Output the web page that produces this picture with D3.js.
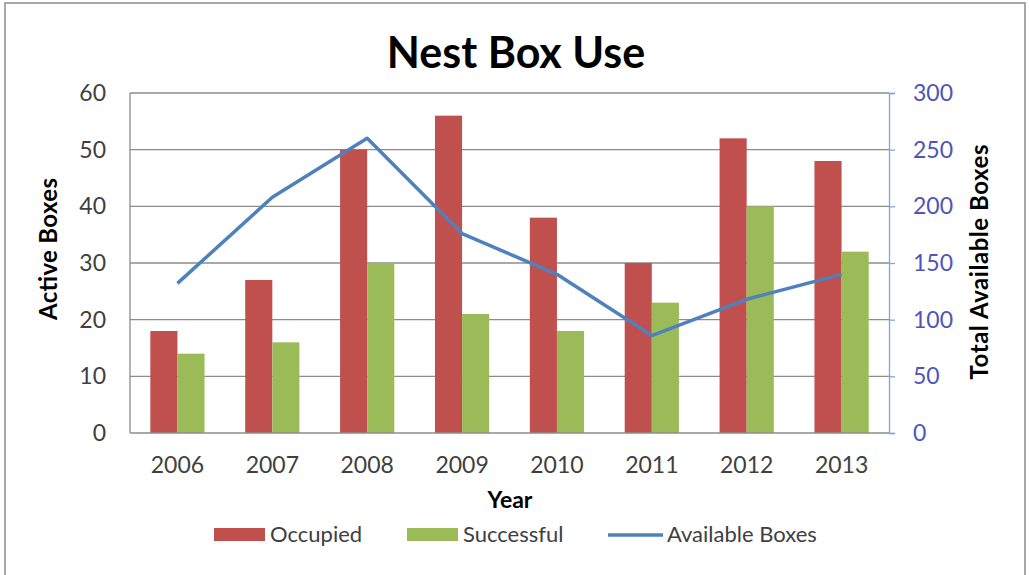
<!DOCTYPE html>
<html><head><meta charset="utf-8">
<script src="https://cdn.jsdelivr.net/npm/d3@7"></script>
<style>
html,body{margin:0;padding:0;background:#fff;}
svg{display:block;font-family:Lato,"Open Sans",sans-serif;}
</style></head>
<body>
<svg id="chart" width="1029" height="575"></svg>
<script>
const years = ["2006","2007","2008","2009","2010","2011","2012","2013"];
const occupied = [18, 27, 50, 56, 38, 30, 52, 48];
const successful = [14, 16, 30, 21, 18, 23, 40, 32];
const available = [132, 208, 260, 176, 140, 86, 118, 140];
const leftTicks = [0, 10, 20, 30, 40, 50, 60];
const rightTicks = [0, 50, 100, 150, 200, 250, 300];
const seriesNames = ["Occupied", "Successful", "Available Boxes"];
const colors = {occ: "#C0504D", suc: "#9BBB59", line: "#4F81BD"};

const svg = d3.select("#chart");
const m = {left: 130, right: 889, top: 93, bottom: 433};

// frame
svg.append("rect").attr("x", 5).attr("y", 3).attr("width", 1020).attr("height", 600)
  .attr("fill", "#fff").attr("stroke", "#8a8a8a").attr("stroke-width", 1.5);

const x = d3.scaleBand().domain(years).range([m.left, m.right]).paddingInner(0).paddingOuter(0);
const x1 = d3.scaleBand().domain(["occ","suc"]).range([0, x.bandwidth()]).paddingInner(0).paddingOuter(0.75);
const yL = d3.scaleLinear().domain([0, 60]).range([m.bottom, m.top]);
const yR = d3.scaleLinear().domain([0, 300]).range([m.bottom, m.top]);

// gridlines
svg.append("g").selectAll("line").data(leftTicks.filter(d => d > 0)).join("line")
  .attr("x1", m.left).attr("x2", m.right)
  .attr("y1", d => yL(d)).attr("y2", d => yL(d))
  .attr("stroke", "#8c8c8c").attr("stroke-width", 1.3);

// bars
const g = svg.append("g");
years.forEach((yr, i) => {
  [["occ", occupied[i]], ["suc", successful[i]]].forEach(([k, v]) => {
    g.append("rect")
      .attr("x", x(yr) + x1(k))
      .attr("y", yL(v))
      .attr("width", x1.bandwidth())
      .attr("height", yL(0) - yL(v))
      .attr("fill", colors[k]);
  });
});

// left axis line and bottom axis
svg.append("line").attr("x1", m.left).attr("x2", m.left).attr("y1", m.top).attr("y2", m.bottom)
  .attr("stroke", "#8c8c8c").attr("stroke-width", 1.3);
svg.append("line").attr("x1", m.left).attr("x2", m.right).attr("y1", m.bottom).attr("y2", m.bottom)
  .attr("stroke", "#8c8c8c").attr("stroke-width", 1.5);

// left axis labels
const axL = d3.axisLeft(yL).tickValues(leftTicks).tickSize(0).tickPadding(24);
const gL = svg.append("g").attr("transform", `translate(${m.left},0)`).call(axL);
gL.select(".domain").remove();
gL.selectAll("text").attr("font-size", 23).attr("fill", "#404040").attr("font-family", "Lato, sans-serif");

// right axis
const axR = d3.axisRight(yR).tickValues(rightTicks).tickSize(6).tickPadding(18);
const gR = svg.append("g").attr("transform", `translate(${m.right},0)`).call(axR);
gR.select(".domain").attr("stroke", "#7DA7D9").attr("stroke-width", 1.3);
gR.selectAll("line").attr("stroke", "#7DA7D9").attr("stroke-width", 1.3);
gR.selectAll("text").attr("font-size", 23).attr("fill", "#4F55B8").attr("font-family", "Lato, sans-serif");

// x axis labels
const axB = d3.axisBottom(x).tickSize(0).tickPadding(24);
const gB = svg.append("g").attr("transform", `translate(0,${m.bottom})`).call(axB);
gB.select(".domain").remove();
gB.selectAll("text").attr("font-size", 23).attr("fill", "#404040").attr("font-family", "Lato, sans-serif");

// line
const line = d3.line().x((d, i) => x(years[i]) + x.bandwidth() / 2).y(d => yR(d));
svg.append("path").datum(available).attr("d", line)
  .attr("fill", "none").attr("stroke", colors.line).attr("stroke-width", 3.5)
  .attr("stroke-linejoin", "round");

// title
svg.append("text").attr("x", 516).attr("y", 68).attr("text-anchor", "middle")
  .attr("font-size", 43).attr("font-weight", "bold").attr("fill", "#000").text("Nest Box Use");

// axis titles
svg.append("text").attr("x", 510).attr("y", 508).attr("text-anchor", "middle")
  .attr("font-size", 23).attr("font-weight", "bold").attr("fill", "#000").text("Year");
svg.append("text").attr("transform", "translate(57,249) rotate(-90)").attr("text-anchor", "middle")
  .attr("font-size", 24).attr("font-weight", "bold").attr("fill", "#000")
  .attr("textLength", 142).attr("lengthAdjust", "spacing").text("Active Boxes");
svg.append("text").attr("transform", "translate(988,262) rotate(-90)").attr("text-anchor", "middle")
  .attr("font-size", 24).attr("font-weight", "bold").attr("fill", "#000")
  .attr("textLength", 235).attr("lengthAdjust", "spacing").text("Total Available Boxes");

// legend
const leg = svg.append("g");
const items = [
  {name: seriesNames[0], type: "rect", color: colors.occ, x: 214},
  {name: seriesNames[1], type: "rect", color: colors.suc, x: 407},
  {name: seriesNames[2], type: "line", color: colors.line, x: 608}
];
items.forEach(it => {
  if (it.type === "rect") {
    leg.append("rect").attr("x", it.x).attr("y", 528).attr("width", 51).attr("height", 13).attr("fill", it.color);
    leg.append("text").attr("x", it.x + 56).attr("y", 542).attr("font-size", 22).attr("fill", "#404040").text(it.name);
  } else {
    leg.append("line").attr("x1", it.x).attr("x2", it.x + 55).attr("y1", 535).attr("y2", 535)
      .attr("stroke", it.color).attr("stroke-width", 3.5);
    leg.append("text").attr("x", it.x + 59).attr("y", 542).attr("font-size", 22).attr("fill", "#404040").text(it.name);
  }
});
</script>
</body></html>
